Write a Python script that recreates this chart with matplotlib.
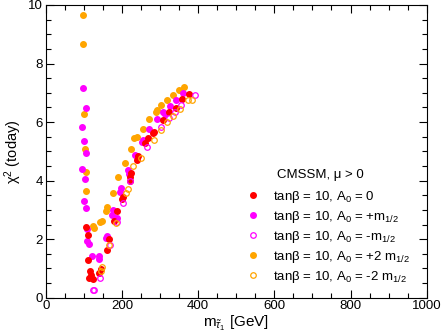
import matplotlib
matplotlib.use("Agg")
import matplotlib.pyplot as plt
from matplotlib.lines import Line2D
from matplotlib.ticker import MultipleLocator

plt.rcParams['font.family'] = ['Liberation Sans', 'DejaVu Sans']
plt.rcParams['mathtext.fontset'] = 'custom'
plt.rcParams['mathtext.rm'] = 'Liberation Sans'
plt.rcParams['mathtext.it'] = 'Liberation Sans:italic'
plt.rcParams['mathtext.sf'] = 'Liberation Sans'

# A0 = 0 (red, filled)
red_x = [105, 111, 112, 116, 120, 125, 114.5, 144.5, 141, 166, 160, 187, 179.5, 204, 200,
         220, 220, 225, 240, 243, 269, 260, 282, 284, 307, 324, 342, 359, 377]
red_y = [2.40, 2.13, 1.29, 0.92, 0.77, 0.65, 0.69, 0.97, 0.83, 1.99, 1.62, 2.96, 2.63, 3.44, 3.37,
         4.12, 3.98, 4.26, 4.72, 4.84, 5.44, 5.27, 5.61, 5.67, 6.07, 6.33, 6.49, 6.78, 6.95]

# A0 = +m1/2 (magenta, filled)
mag_x = [97, 105, 94, 100, 107, 96, 102, 100, 106, 109, 109, 114, 121, 141, 139, 162, 158,
         177, 175, 181, 187, 198, 195, 216, 219, 235, 253, 256, 272, 293, 309, 313, 326, 341, 360]
mag_y = [7.18, 6.49, 5.82, 5.34, 4.93, 4.39, 4.06, 3.31, 3.06, 2.36, 1.95, 1.82, 1.42, 1.42, 1.33,
         2.11, 2.05, 3.00, 2.83, 2.71, 2.74, 3.75, 3.61, 4.35, 4.24, 4.89, 5.33, 5.38, 5.75, 6.09,
         6.36, 6.26, 6.55, 6.76, 6.99]

# A0 = -m1/2 (magenta, open)
magopen_x = [123, 128, 143, 170, 188, 202, 222, 265, 303, 324, 340, 356, 392]
magopen_y = [0.26, 0.26, 0.69, 1.80, 2.60, 3.22, 4.00, 5.16, 5.84, 6.15, 6.36, 6.58, 6.91]

# A0 = +2 m1/2 (orange, filled)
org_x = [97, 98, 101, 103, 105, 107, 125, 128, 142, 148, 157, 162, 176, 191, 209, 225, 232,
         239, 256, 272, 289, 293, 303, 319, 335, 350, 364]
org_y = [9.66, 8.66, 6.29, 5.07, 4.29, 3.63, 2.46, 2.38, 2.57, 2.62, 2.96, 3.10, 3.57, 4.12,
         4.59, 5.07, 5.46, 5.50, 5.76, 6.12, 6.36, 6.42, 6.58, 6.74, 6.91, 7.10, 7.20]

# A0 = -2 m1/2 (orange, open)
orgopen_x = [148, 146, 166, 185, 212, 215, 228, 249, 284, 302, 319, 335, 353, 373, 384]
orgopen_y = [1.04, 0.90, 1.79, 2.54, 3.59, 3.73, 4.50, 4.76, 5.38, 5.72, 6.00, 6.21, 6.44,
             6.76, 6.76]

labels = ["tanβ = 10, A$_0$ = 0",
          "tanβ = 10, A$_0$ = +m$_{1/2}$",
          "tanβ = 10, A$_0$ = -m$_{1/2}$",
          "tanβ = 10, A$_0$ = +2 m$_{1/2}$",
          "tanβ = 10, A$_0$ = -2 m$_{1/2}$"]

RED = '#ff0000'
MAG = '#ff00ff'
ORG = '#ffa500'

fig = plt.figure(figsize=(4.42, 3.33), dpi=100)
ax = fig.add_axes([0.1034, 0.106, 0.862, 0.879])

ms = 4.0
kw = dict(linestyle='none', marker='o', markersize=ms)
ax.plot(org_x, org_y, color=ORG, markeredgecolor=ORG, **kw)
ax.plot(mag_x, mag_y, color=MAG, markeredgecolor=MAG, **kw)
ax.plot(red_x, red_y, color=RED, markeredgecolor=RED, **kw)
ax.plot(magopen_x, magopen_y, markerfacecolor='none', markeredgecolor=MAG,
        markeredgewidth=0.9, **kw)
ax.plot(orgopen_x, orgopen_y, markerfacecolor='none', markeredgecolor=ORG,
        markeredgewidth=0.9, **kw)

ax.set_xlim(0, 1000)
ax.set_ylim(0, 10)
ax.xaxis.set_major_locator(MultipleLocator(200))
ax.xaxis.set_minor_locator(MultipleLocator(50))
ax.yaxis.set_major_locator(MultipleLocator(2))
ax.yaxis.set_minor_locator(MultipleLocator(0.5))
ax.tick_params(which='both', direction='in', top=True, right=True, labelsize=9.5,
               width=0.8, pad=2)
ax.tick_params(which='major', length=6)
ax.tick_params(which='minor', length=3.5)
for s in ax.spines.values():
    s.set_linewidth(0.8)

ax.set_xlabel(r"m$_{\tilde{\tau}_1}$ [GeV]", fontsize=11, labelpad=1)
ax.set_ylabel("χ$^2$ (today)", fontsize=10.5, labelpad=3)

handles = [Line2D([], [], linestyle='none', marker='o', markersize=ms, color=RED),
           Line2D([], [], linestyle='none', marker='o', markersize=ms, color=MAG),
           Line2D([], [], linestyle='none', marker='o', markersize=ms, markerfacecolor='none',
                  markeredgecolor=MAG, markeredgewidth=0.9),
           Line2D([], [], linestyle='none', marker='o', markersize=ms, color=ORG),
           Line2D([], [], linestyle='none', marker='o', markersize=ms, markerfacecolor='none',
                  markeredgecolor=ORG, markeredgewidth=0.9)]
leg = ax.legend(handles, labels, loc='upper left', bbox_to_anchor=(0.527, 0.372),
                frameon=False, fontsize=9.5, handlelength=1.0, handletextpad=1.0,
                labelspacing=0.3, borderpad=0, borderaxespad=0)
ax.text(0.607, 0.419, "CMSSM, μ > 0", transform=ax.transAxes, fontsize=9.5,
        ha='left', va='center')

fig.savefig("out.png", dpi=100)
